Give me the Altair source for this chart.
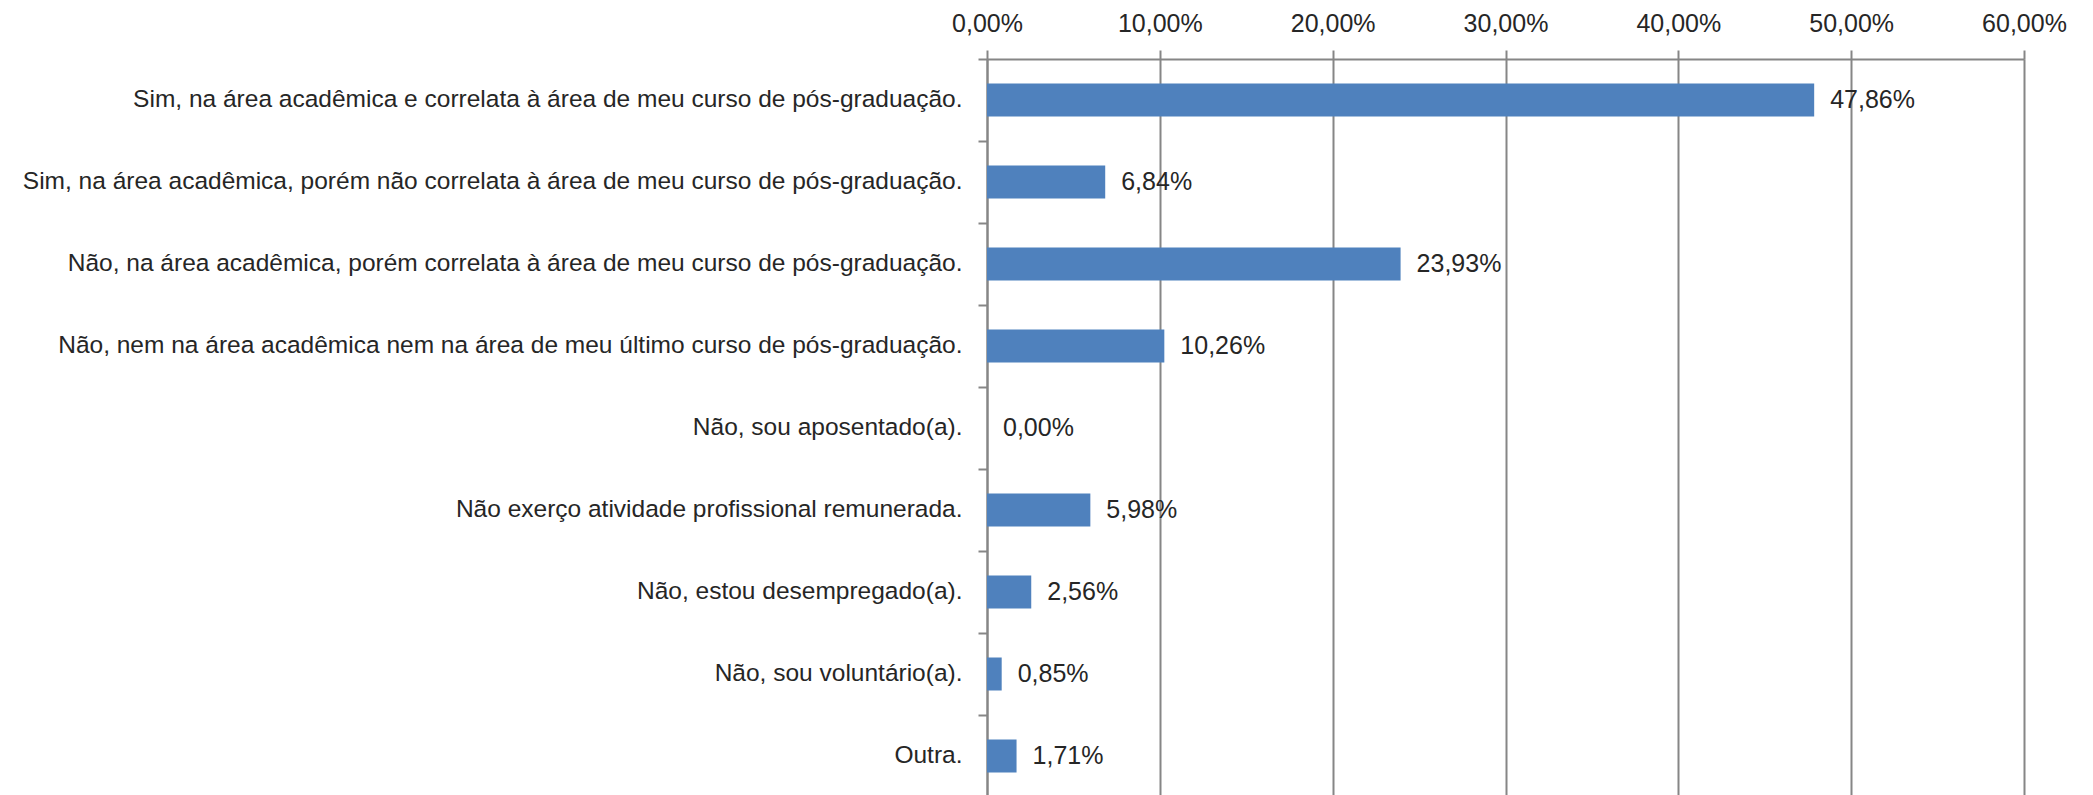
import altair as alt
import pandas as pd

categories = [
    "Sim, na área acadêmica e correlata à área de meu curso de pós-graduação.",
    "Sim, na área acadêmica, porém não correlata à área de meu curso de pós-graduação.",
    "Não, na área acadêmica, porém correlata à área de meu curso de pós-graduação.",
    "Não, nem na área acadêmica nem na área de meu último curso de pós-graduação.",
    "Não, sou aposentado(a).",
    "Não exerço atividade profissional remunerada.",
    "Não, estou desempregado(a).",
    "Não, sou voluntário(a).",
    "Outra.",
]
values = [47.86, 6.84, 23.93, 10.26, 0.00, 5.98, 2.56, 0.85, 1.71]
labels = ["47,86%", "6,84%", "23,93%", "10,26%", "0,00%", "5,98%", "2,56%", "0,85%", "1,71%"]

df = pd.DataFrame({"cat": categories, "val": values, "lab": labels})

FONT = "Liberation Sans, Arial, sans-serif"
GRAY = "#868686"
TXT = "#262626"
FS = 25

y_enc = alt.Y(
    "cat:N",
    sort=categories,
    title=None,
    scale=alt.Scale(paddingInner=0, paddingOuter=0),
    axis=alt.Axis(
        labelFont=FONT, labelFontSize=24.5, labelColor=TXT, labelLimit=1000,
        labelPadding=16, domainColor=GRAY, domainWidth=2,
        tickColor=GRAY, tickWidth=2, tickSize=9,
        bandPosition=0, grid=False,
    ),
)
x_scale = alt.Scale(domain=[0, 60], nice=False)

bars = alt.Chart(df).mark_bar(color="#4F81BD", size=33).encode(
    x=alt.X(
        "val:Q", scale=x_scale, title=None,
        axis=alt.Axis(
            orient="top", values=[0, 10, 20, 30, 40, 50, 60],
            labelExpr="replace(format(datum.value, '.2f'), '.', ',') + '%'",
            labelFont=FONT, labelFontSize=FS, labelColor=TXT, labelPadding=14,
            labelFlush=False,
            domainColor=GRAY, domainWidth=2, tickColor=GRAY, tickWidth=2, tickSize=9,
            grid=True, gridColor=GRAY, gridWidth=2,
        ),
    ),
    y=y_enc,
)

text = alt.Chart(df).mark_text(
    align="left", baseline="middle", dx=16, font=FONT, fontSize=FS, color=TXT
).encode(
    x=alt.X("val:Q", scale=x_scale),
    y=alt.Y("cat:N", sort=categories),
    text="lab:N",
)

chart = (bars + text).properties(
    width=1037, height=738,
    autosize=alt.AutoSizeParams(type="none"),
    padding={"left": 979, "top": 51, "right": 60, "bottom": 0},
).configure_view(stroke=None).configure(background="white")

chart.save("out.html", embed_options={"renderer": "svg", "actions": False})
